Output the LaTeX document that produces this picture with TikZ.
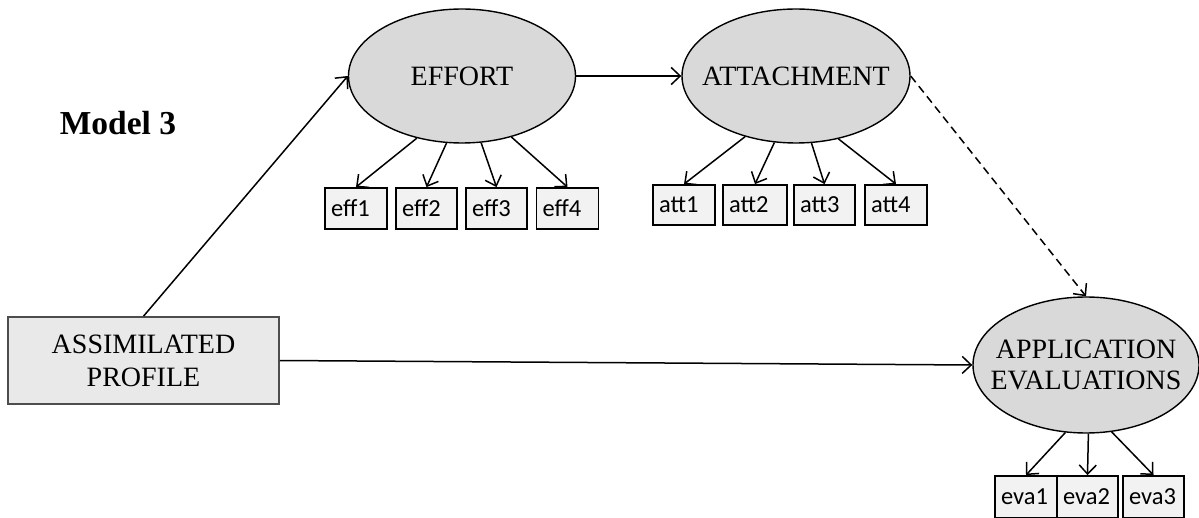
\documentclass[tikz,border=0pt]{standalone}
\usepackage{fontspec}
\setmainfont{Liberation Serif}
\newfontfamily\labelfont{Carlito}
\usetikzlibrary{shapes.geometric,arrows.meta}

\definecolor{latentfill}{HTML}{D9D9D9}
\definecolor{itemfill}{HTML}{F2F2F2}
\definecolor{exofill}{HTML}{E9E9E9}
\definecolor{exoline}{HTML}{4D4D4D}

\tikzset{
  latent/.style={ellipse, draw=black, line width=1.4pt, fill=latentfill,
    inner ysep=0pt, inner xsep=-20pt, align=center,
    font=\fontsize{28}{31}\selectfont},
  itembox/.style={rectangle, draw=black, line width=1.8pt, fill=itemfill,
    inner xsep=6pt, inner ysep=0pt, minimum height=41pt,
    text width=#1, align=left,
    font=\labelfont\fontsize{24.5}{27}\selectfont},
  exobox/.style={rectangle, draw=exoline, line width=1.6pt, fill=exofill,
    inner sep=0pt, align=center, minimum width=271pt, minimum height=87pt,
    font=\fontsize{28}{33}\selectfont},
  path/.style={line width=1.5pt, -{Straight Barb[length=9pt,width=17pt,line width=1.5pt]}},
  loading/.style={path},
  dashpath/.style={path, dash pattern=on 8pt off 5pt},
}

\begin{document}
\begin{tikzpicture}[x=1pt,y=-1pt]
  \useasboundingbox (0,0) rectangle (1199,518);

  % title
  \node[font=\bfseries\fontsize{33.5}{36}\selectfont] (title) at (118,123) {Model 3};

  % latent variables
  \node[latent, minimum width=227pt, minimum height=134pt] (eff) at (462,76) {EFFORT};
  \node[latent, minimum width=228pt, minimum height=134pt] (att) at (796,76) {ATTACHMENT};
  \node[latent, minimum width=226pt, minimum height=136pt] (eva) at (1086,365) {APPLICATION\\EVALUATIONS};

  % exogenous variable
  \node[exobox] (ap) at (143.5,360.5) {ASSIMILATED\\PROFILE};

  % indicators of EFFORT
  \node[itembox=50pt] (eff1) at (356,208.5) {eff1};
  \node[itembox=49pt] (eff2) at (426.5,208.5) {eff2};
  \node[itembox=49pt] (eff3) at (496.5,208.5) {eff3};
  \node[itembox=50pt] (eff4) at (567.5,208.5) {eff4};

  % indicators of ATTACHMENT
  \node[itembox=50pt, minimum height=40pt] (att1) at (684,205) {att1};
  \node[itembox=52pt, minimum height=40pt] (att2) at (755,205) {att2};
  \node[itembox=49pt, minimum height=40pt] (att3) at (824.5,205) {att3};
  \node[itembox=50pt, minimum height=40pt] (att4) at (896,205) {att4};

  % indicators of APPLICATION EVALUATIONS
  \node[itembox=50pt, minimum height=42pt] (eva1) at (1026,497) {eva1};
  \node[itembox=49pt, minimum height=42pt] (eva2) at (1087.5,497) {eva2};
  \node[itembox=49pt, minimum height=42pt] (eva3) at (1153.5,497) {eva3};

  % structural paths
  \draw[path] (ap.north) -- (eff.west);
  \draw[path] (eff.east) -- (att.west);
  \draw[path] (ap.east) -- (eva.west);
  \draw[dashpath] (att.east) -- (eva.north);

  % measurement paths
  \draw[loading] (eff.234) -- (eff1.north);
  \draw[loading] (eff.257) -- (eff2.north);
  \draw[loading] (eff.286) -- (eff3.north);
  \draw[loading] (eff.309) -- (eff4.north);

  \draw[loading] (att.230) -- (att1.north);
  \draw[loading] (att.252) -- (att2.north);
  \draw[loading] (att.283) -- (att3.north);
  \draw[loading] (att.304) -- (att4.north);

  \draw[loading] (eva.253) -- (eva1.north);
  \draw[loading] (eva.272) -- (eva2.north);
  \draw[loading] (eva.291) -- (eva3.north);
\end{tikzpicture}
\end{document}
